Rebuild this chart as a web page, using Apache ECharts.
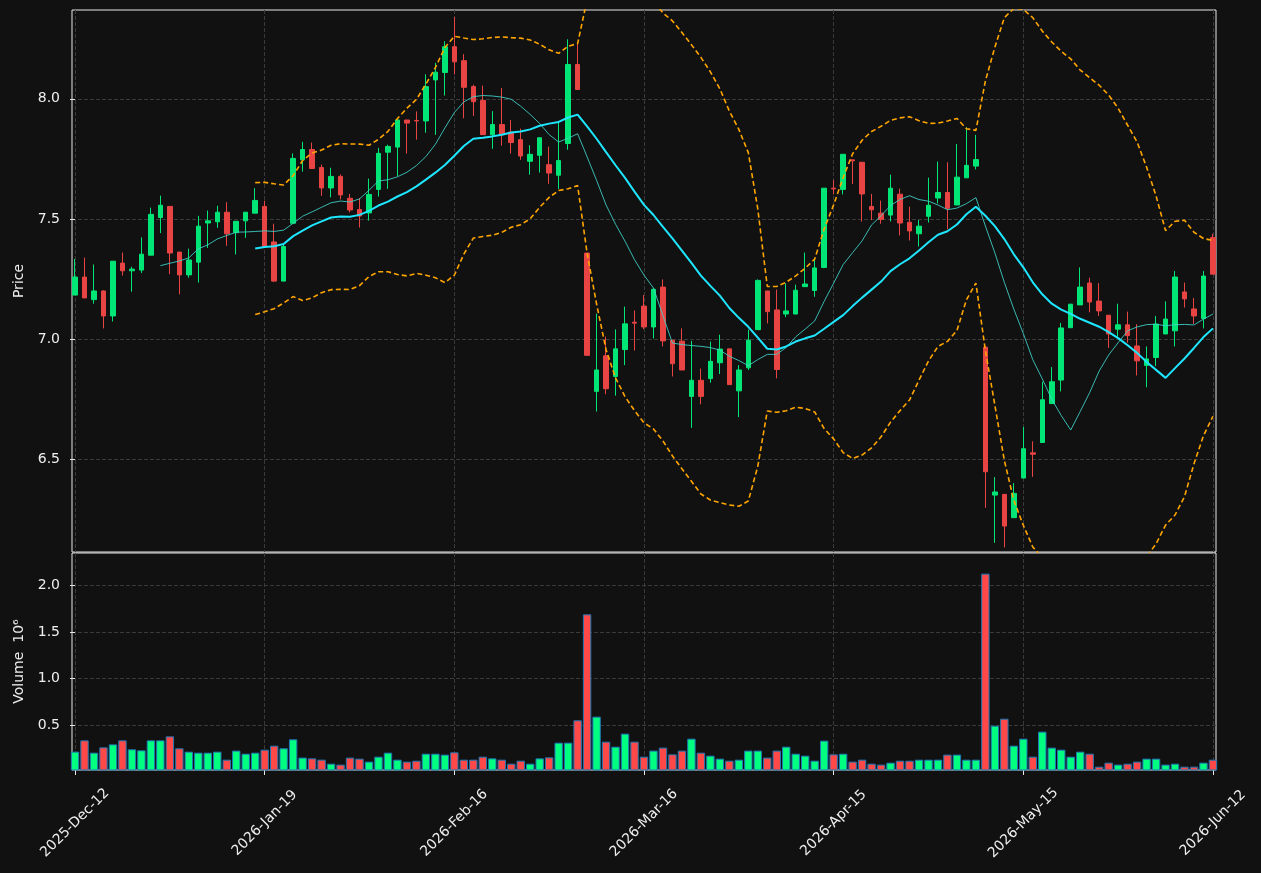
<!DOCTYPE html>
<html>
<head>
<meta charset="utf-8">
<title>Price / Volume</title>
<script src="https://cdn.jsdelivr.net/npm/echarts@6.0.0/dist/echarts.min.js"></script>
<style>
html, body { margin: 0; padding: 0; background: #111111; }
#main { width: 1261px; height: 873px; }
</style>
</head>
<body>
<div id="main"></div>
<script>
// x tick labels, one every 20 sessions
var tickIndex = [0, 20, 40, 60, 80, 100, 120];
var tickLabels = ["2025-Dec-12", "2026-Jan-19", "2026-Feb-16", "2026-Mar-16", "2026-Apr-15", "2026-May-15", "2026-Jun-12"];

// daily OHLC
var openP = [
	7.183, 7.258, 7.164, 7.200, 7.096, 7.316, 7.284, 7.287, 7.349, 7.506,
	7.552, 7.362, 7.267, 7.320, 7.483, 7.488, 7.528, 7.443, 7.492, 7.524,
	7.552, 7.404, 7.241, 7.482, 7.746, 7.789, 7.714, 7.629, 7.677, 7.586,
	7.539, 7.525, 7.623, 7.778, 7.799, 7.912, 7.910, 7.908, 8.079, 8.110,
	8.217, 8.159, 8.051, 7.993, 7.850, 7.893, 7.861, 7.830, 7.740, 7.765,
	7.726, 7.682, 7.814, 8.143, 7.358, 6.782, 6.930, 6.844, 6.956, 7.070,
	7.137, 7.050, 7.216, 6.995, 6.991, 6.761, 6.828, 6.835, 6.901, 6.959,
	6.784, 6.880, 7.039, 7.200, 7.121, 7.104, 7.104, 7.218, 7.202, 7.298,
	7.628, 7.623, 7.746, 7.736, 7.552, 7.524, 7.516, 7.603, 7.486, 7.438,
	7.511, 7.587, 7.610, 7.558, 7.671, 7.720, 6.966, 6.350, 6.353, 6.256,
	6.421, 6.526, 6.569, 6.731, 6.829, 7.047, 7.142, 7.233, 7.158, 7.099,
	7.041, 7.059, 6.971, 6.890, 6.923, 7.021, 7.034, 7.196, 7.125, 7.085,
	7.423
];
var highP = [
	7.333, 7.339, 7.310, 7.203, 7.324, 7.360, 7.301, 7.423, 7.547, 7.597,
	7.552, 7.362, 7.376, 7.513, 7.535, 7.555, 7.570, 7.490, 7.528, 7.628,
	7.576, 7.480, 7.394, 7.773, 7.821, 7.818, 7.726, 7.713, 7.685, 7.604,
	7.587, 7.668, 7.796, 7.809, 7.915, 7.912, 7.948, 8.102, 8.150, 8.240,
	8.341, 8.186, 8.059, 8.055, 7.949, 8.045, 7.912, 7.876, 7.807, 7.838,
	7.801, 7.908, 8.248, 8.237, 7.358, 7.106, 7.010, 7.040, 7.135, 7.119,
	7.183, 7.212, 7.248, 6.995, 7.044, 6.992, 6.877, 6.989, 7.018, 6.959,
	6.891, 7.039, 7.248, 7.200, 7.206, 7.232, 7.226, 7.360, 7.330, 7.628,
	7.662, 7.769, 7.746, 7.736, 7.604, 7.576, 7.684, 7.626, 7.551, 7.496,
	7.672, 7.739, 7.736, 7.812, 7.882, 7.850, 6.966, 6.425, 6.353, 6.400,
	6.634, 6.574, 6.822, 6.883, 7.067, 7.145, 7.298, 7.255, 7.233, 7.099,
	7.147, 7.114, 7.062, 6.969, 7.096, 7.157, 7.283, 7.235, 7.171, 7.283,
	7.438
];
var lowP = [
	7.183, 7.171, 7.147, 7.044, 7.073, 7.264, 7.197, 7.275, 7.349, 7.441,
	7.270, 7.186, 7.255, 7.235, 7.379, 7.463, 7.388, 7.352, 7.421, 7.524,
	7.385, 7.238, 7.241, 7.482, 7.697, 7.710, 7.596, 7.590, 7.581, 7.527,
	7.464, 7.493, 7.593, 7.625, 7.678, 7.772, 7.830, 7.859, 7.850, 8.014,
	8.102, 7.919, 7.929, 7.851, 7.792, 7.805, 7.772, 7.746, 7.684, 7.693,
	7.646, 7.625, 7.788, 8.039, 6.932, 6.698, 6.770, 6.764, 6.891, 6.952,
	7.041, 7.002, 6.969, 6.844, 6.871, 6.630, 6.728, 6.818, 6.854, 6.810,
	6.675, 6.871, 7.039, 7.065, 6.836, 7.091, 7.104, 7.218, 7.176, 7.295,
	7.602, 7.602, 7.645, 7.489, 7.495, 7.480, 7.489, 7.431, 7.410, 7.385,
	7.485, 7.565, 7.457, 7.558, 7.671, 7.706, 6.297, 6.151, 6.132, 6.256,
	6.421, 6.426, 6.569, 6.731, 6.782, 7.047, 7.142, 7.111, 7.096, 6.963,
	7.010, 6.984, 6.848, 6.799, 6.887, 7.021, 6.969, 7.131, 7.063, 7.044,
	7.270
];
var closeP = [
	7.258, 7.171, 7.200, 7.096, 7.324, 7.284, 7.291, 7.353, 7.519, 7.557,
	7.358, 7.267, 7.329, 7.470, 7.492, 7.528, 7.438, 7.490, 7.528, 7.577,
	7.385, 7.241, 7.385, 7.752, 7.789, 7.710, 7.629, 7.677, 7.600, 7.537,
	7.512, 7.602, 7.773, 7.802, 7.912, 7.899, 7.908, 8.051, 8.111, 8.217,
	8.154, 8.048, 7.988, 7.851, 7.893, 7.851, 7.818, 7.762, 7.769, 7.838,
	7.691, 7.743, 8.143, 8.039, 6.932, 6.871, 6.793, 6.959, 7.063, 7.066,
	7.050, 7.207, 6.992, 6.897, 6.871, 6.828, 6.761, 6.907, 6.958, 6.810,
	6.871, 6.995, 7.244, 7.114, 6.873, 7.117, 7.203, 7.229, 7.296, 7.628,
	7.625, 7.769, 7.742, 7.604, 7.538, 7.498, 7.628, 7.483, 7.450, 7.470,
	7.557, 7.610, 7.544, 7.674, 7.723, 7.747, 6.447, 6.363, 6.221, 6.357,
	6.543, 6.520, 6.747, 6.822, 7.046, 7.145, 7.216, 7.154, 7.117, 7.021,
	7.059, 7.014, 6.909, 6.917, 7.062, 7.083, 7.258, 7.167, 7.096, 7.262,
	7.270
];
var volume = [
	218000, 339000, 207000, 264000, 296000, 339000, 243000, 232000, 339000, 339000,
	382000, 254000, 218000, 207000, 207000, 218000, 132000, 229000, 196000, 207000,
	239000, 282000, 254000, 350000, 154000, 146000, 132000, 89000, 79000, 154000,
	143000, 111000, 164000, 207000, 132000, 111000, 121000, 196000, 196000, 186000,
	211000, 132000, 132000, 164000, 146000, 132000, 89000, 121000, 89000, 146000,
	157000, 314000, 314000, 554000, 1689000, 593000, 325000, 271000, 411000, 325000,
	164000, 229000, 261000, 189000, 229000, 357000, 207000, 175000, 143000, 121000,
	132000, 229000, 229000, 154000, 229000, 271000, 196000, 175000, 121000, 336000,
	189000, 196000, 111000, 132000, 89000, 79000, 100000, 121000, 121000, 132000,
	132000, 132000, 186000, 186000, 132000, 132000, 2125000, 496000, 571000, 282000,
	357000, 164000, 432000, 261000, 239000, 164000, 218000, 196000, 57000, 100000,
	79000, 89000, 111000, 143000, 143000, 79000, 89000, 57000, 57000, 100000,
	132000
];

var UP = "#00e676";
var DOWN = "#e84444";
var VOL_UP = "#00ff80";
var VOL_DOWN = "#ff4848";
var GRID_LINE = { show: true, lineStyle: { color: "#3a3a3a", width: 1, type: [4, 2] } };
var FONT = "DejaVu Sans";

// simple moving average of the closes
function movingAvg(arr, n) {
	var out = [];
	for (var i = n - 1; i < arr.length; i++) {
		var s = 0;
		for (var j = i - n + 1; j <= i; j++) s += arr[j];
		out.push([i, s / n]);
	}
	return out;
}

// bollinger bands, population std
function bands(arr, n, k) {
	var up = [], lo = [];
	for (var i = n - 1; i < arr.length; i++) {
		var s = 0, q = 0;
		for (var j = i - n + 1; j <= i; j++) s += arr[j];
		var m = s / n;
		for (var j2 = i - n + 1; j2 <= i; j2++) q += (arr[j2] - m) * (arr[j2] - m);
		var sd = Math.sqrt(q / n);
		up.push([i, m + k * sd]);
		lo.push([i, m - k * sd]);
	}
	return { up: up, lo: lo };
}

var candles = [], vols = [];
for (var i = 0; i < closeP.length; i++) {
	candles.push([i, openP[i], closeP[i], lowP[i], highP[i]]);
	var rising = closeP[i] >= openP[i];
	vols.push({ value: [i, volume[i]], itemStyle: { color: rising ? VOL_UP : VOL_DOWN } });
}
var ma10 = movingAvg(closeP, 10);
var ma20 = movingAvg(closeP, 20);
var bb = bands(closeP, 20, 2);

var priceTicks = [6.5, 7.0, 7.5, 8.0];
var volTicks = [500000, 1000000, 1500000, 2000000];

function xAxisFor(gridIdx, withLabels) {
	return {
		type: "value", gridIndex: gridIdx, min: -0.32, max: 120.32,
		axisLine: { show: false },
		axisTick: { show: withLabels, customValues: tickIndex, length: 5, lineStyle: { color: "#e8e8e8" } },
		axisLabel: {
			show: withLabels, customValues: tickIndex, rotate: 45, margin: 53,
			align: "center", verticalAlign: "middle",
			color: "#eeeeee", fontSize: 14, fontFamily: FONT,
			formatter: function(v) { return tickLabels[tickIndex.indexOf(Math.round(v))] || ""; }
		},
		splitLine: GRID_LINE
	};
}

var chart = echarts.init(document.getElementById("main"), null, { renderer: "canvas" });

var option = {
	backgroundColor: "#111111",
	animation: false,
	grid: [
		{ left: 72, right: 45, top: 10, height: 542, show: true, borderColor: "#e8e8e8", borderWidth: 1 },
		{ left: 72, right: 45, top: 553, height: 217, show: true, borderColor: "#e8e8e8", borderWidth: 1 }
	],
	xAxis: [xAxisFor(0, false), xAxisFor(1, true)],
	yAxis: [{
		type: "value", gridIndex: 0, min: 6.113, max: 8.370,
		name: "Price", nameLocation: "middle", nameGap: 39,
		nameTextStyle: { color: "#eeeeee", fontSize: 14, fontFamily: FONT },
		axisLine: { show: false },
		axisTick: { show: true, customValues: priceTicks, length: 5, lineStyle: { color: "#e8e8e8" } },
		axisLabel: {
			customValues: priceTicks, color: "#eeeeee", fontSize: 14, fontFamily: FONT, margin: 12,
			formatter: function(v) { return v.toFixed(1); }
		},
		splitLine: GRID_LINE
	}, {
		type: "value", gridIndex: 1, min: 21400, max: 2346000,
		name: "Volume  10\u2076", nameLocation: "middle", nameGap: 41,
		nameTextStyle: { color: "#eeeeee", fontSize: 14, fontFamily: FONT },
		axisLine: { show: false },
		axisTick: { show: true, customValues: volTicks, length: 5, lineStyle: { color: "#e8e8e8" } },
		axisLabel: {
			customValues: volTicks, color: "#eeeeee", fontSize: 14, fontFamily: FONT, margin: 12,
			formatter: function(v) { return (v / 1e6).toFixed(1); }
		},
		splitLine: GRID_LINE
	}],
	series: [{
		name: "OHLC", type: "candlestick", xAxisIndex: 0, yAxisIndex: 0,
		barWidth: 5,
		itemStyle: { color: UP, color0: DOWN, borderColor: UP, borderColor0: DOWN, borderWidth: 1 },
		data: candles
	}, {
		name: "MA10", type: "line", xAxisIndex: 0, yAxisIndex: 0, symbol: "none",
		lineStyle: { color: "rgba(64,214,204,0.85)", width: 1 },
		data: ma10
	}, {
		name: "MA20", type: "line", xAxisIndex: 0, yAxisIndex: 0, symbol: "none",
		lineStyle: { color: "#1ee6ff", width: 2 },
		data: ma20
	}, {
		name: "BB upper", type: "line", xAxisIndex: 0, yAxisIndex: 0, symbol: "none",
		lineStyle: { color: "#ffa500", width: 1.6, type: [5, 3] },
		data: bb.up
	}, {
		name: "BB lower", type: "line", xAxisIndex: 0, yAxisIndex: 0, symbol: "none",
		lineStyle: { color: "#ffa500", width: 1.6, type: [5, 3] },
		data: bb.lo
	}, {
		name: "Volume", type: "bar", xAxisIndex: 1, yAxisIndex: 1,
		barWidth: 8.4,
		itemStyle: { borderColor: "#1f77b4", borderWidth: 1 },
		data: vols
	}]
};

chart.setOption(option);
</script>
</body>
</html>
